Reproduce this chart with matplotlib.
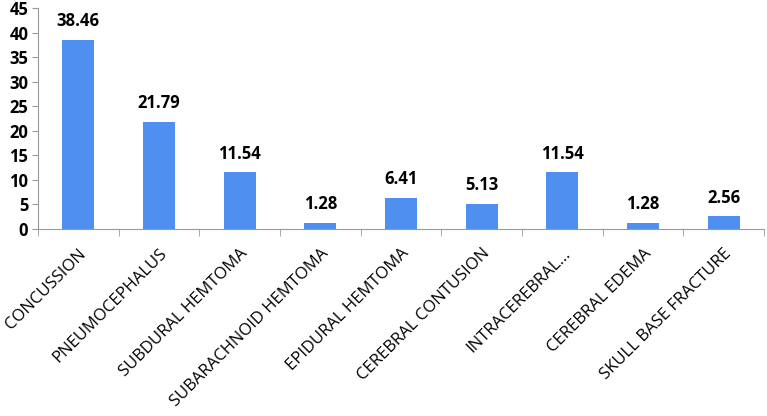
import matplotlib
matplotlib.use("Agg")
import matplotlib.pyplot as plt
import numpy as np

categories = ["CONCUSSION", "PNEUMOCEPHALUS", "SUBDURAL HEMTOMA", "SUBARACHNOID HEMTOMA",
              "EPIDURAL HEMTOMA", "CEREBRAL CONTUSION", "INTRACEREBRAL...", "CEREBRAL EDEMA",
              "SKULL BASE FRACTURE"]
values = [38.46, 21.79, 11.54, 1.28, 6.41, 5.13, 11.54, 1.28, 2.56]
yticks = [0, 5, 10, 15, 20, 25, 30, 35, 40, 45]

plt.rcParams['font.family'] = ['Open Sans', 'DejaVu Sans']
fig = plt.figure(figsize=(7.67, 4.16), dpi=100)
ax = fig.add_axes([38/767, 1-229/416, (764-38)/767, (229-8)/416])
x = np.arange(len(categories))
bars = ax.bar(x, values, width=0.4, color='#4F8FF0')
for xi, v in zip(x, values):
    ax.text(xi, v + 2.0, f"{v:.2f}", ha='center', va='bottom', fontsize=12, fontweight='bold')
ax.set_xlim(-0.5, len(categories) - 0.5)
ax.set_ylim(0, 45)
ax.set_yticks(yticks)
ax.set_yticklabels([str(t) for t in yticks], fontsize=12, fontweight='bold')
ax.set_xticks(x)
ax.set_xticklabels(categories, rotation=45, ha='right', rotation_mode='anchor', fontsize=12)
ax.set_xticks(np.arange(-0.5, len(categories)), minor=True)
ax.tick_params(axis='x', which='major', length=0, pad=12)
ax.tick_params(axis='x', which='minor', length=5, color='#999999')
ax.tick_params(axis='y', length=4, color='#999999', pad=3)
for s in ['top', 'right']:
    ax.spines[s].set_visible(False)
ax.spines['left'].set_color('#999999')
ax.spines['bottom'].set_color('#999999')
fig.savefig('out.png', dpi=100)
